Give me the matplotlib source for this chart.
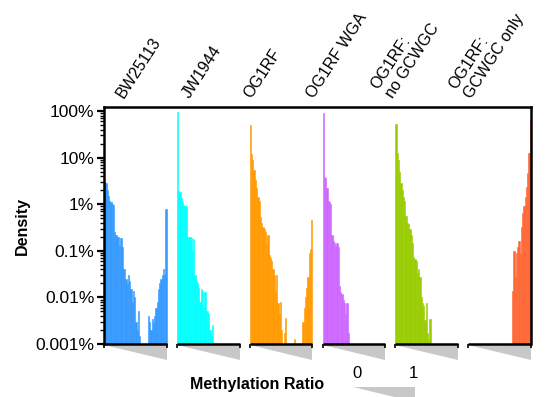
import matplotlib.pyplot as plt
from matplotlib.patches import Polygon

plt.rcParams['font.family'] = ['Liberation Sans', 'DejaVu Sans']

# Samples and colours
samples = ["BW25113", "JW1944", "OG1RF", "OG1RF WGA", "OG1RF:\nno GCWGC", "OG1RF:\nGCWGC only"]
colors = ["#3399ff", "#00ffff", "#ff9900", "#cc66ff", "#99cc00", "#ff6633"]

# Density (%) per methylation-ratio bin (50 bins from 0 to 1), 0 = empty bin
bw25113 = [3.0, 2.8, 2.0, 1.5, 1.2, 1.1, 1.0, 0.95, 0.25, 0.22,
           0.2, 0.2, 0.13, 0.19, 0.12, 0.04, 0.04, 0.025, 0.02, 0.03,
           0.022, 0.015, 0.008, 0.014, 0.01, 0.003, 0.002, 0.005, 0.0015, 0,
           0, 0, 0, 0, 0, 0.004, 0.003, 0.002, 0.0035, 0.003,
           0.004, 0.006, 0.008, 0.015, 0.02, 0.025, 0.03, 0.04, 0.03, 0.8]
jw1944 = [95, 1.9, 1.8, 1.35, 1.1, 0.95, 0.9, 0.9, 0.2, 0.2,
          0.2, 0.19, 0.1, 0.18, 0.03, 0.023, 0.02, 0.016, 0.008, 0.015,
          0.014, 0.006, 0.013, 0.005, 0.005, 0.0045, 0.002, 0.0015, 0.0025, 0,
          0, 0, 0, 0, 0, 0, 0, 0, 0, 0,
          0, 0, 0, 0, 0, 0, 0, 0, 0, 0]
og1rf = [50, 12, 9, 5.4, 3.3, 2.2, 1.4, 1.2, 0.54, 0.4,
         0.33, 0.3, 0.25, 0.15, 0.22, 0.08, 0.07, 0.06, 0.04, 0.03,
         0.013, 0.03, 0.0075, 0.0045, 0.008, 0.002, 0, 0.0017, 0.0037, 0,
         0, 0, 0, 0, 0, 0.0013, 0, 0, 0, 0,
         0, 0, 0.003, 0.006, 0.01, 0.016, 0.028, 0.09, 0.11, 0.46]
og1rf_wga = [92, 3.8, 3.6, 2.2, 1.2, 1.1, 1.0, 0.22, 0.16, 0.15,
             0.13, 0.15, 0.12, 0.018, 0.013, 0.012, 0.009, 0.0075, 0.0045, 0.0075,
             0.0017, 0, 0, 0, 0, 0, 0, 0, 0, 0,
             0, 0, 0, 0, 0, 0, 0, 0, 0, 0,
             0, 0, 0, 0, 0, 0, 0, 0, 0, 0]
og1rf_no_gcwgc = [52, 12.5, 9, 5, 2.9, 2.0, 1.4, 1.2, 0.55, 0.4,
                  0.38, 0.3, 0.22, 0.15, 0.074, 0.068, 0.06, 0.034, 0.04, 0.028,
                  0.01, 0.0075, 0.0065, 0.0033, 0.0075, 0.0017, 0.0012, 0.0035, 0, 0,
                  0, 0, 0, 0, 0, 0, 0, 0, 0, 0,
                  0, 0, 0, 0, 0, 0, 0, 0, 0, 0]
og1rf_gcwgc_only = [0, 0, 0, 0, 0, 0, 0, 0, 0, 0,
                    0, 0, 0, 0, 0, 0, 0, 0, 0, 0,
                    0, 0, 0, 0, 0, 0, 0, 0, 0, 0,
                    0, 0, 0, 0, 0, 0.014, 0.1, 0.028, 0.09, 0.12,
                    0.16, 0.09, 0.33, 0.65, 0.9, 1.4, 2.3, 4.7, 12.5, 64]
densities = [bw25113, jw1944, og1rf, og1rf_wga, og1rf_no_gcwgc, og1rf_gcwgc_only]

# Y axis ticks
ytick_values = [0.001, 0.01, 0.1, 1, 10, 100]
ytick_labels = ["0.001%", "0.01%", "0.1%", "1%", "10%", "100%"]

n_bins = 50
panel_width = 0.86  # fraction of the panel pitch used by one histogram

fig = plt.figure(figsize=(5.59, 3.97), dpi=100)
ax = fig.add_axes([104 / 559, 53 / 397, 427 / 559, 237 / 397])

bin_w = panel_width / n_bins
for i, (dens, col) in enumerate(zip(densities, colors)):
    xs = [i + k * bin_w for k in range(n_bins)]
    ax.bar(xs, dens, width=bin_w, align='edge', color=col, edgecolor=col, linewidth=0.4)

ax.set_yscale('log')
ax.set_ylim(0.001, 122)
ax.set_xlim(0, 5 + panel_width)
ax.set_yticks(ytick_values)
ax.set_yticklabels(ytick_labels, fontsize=12.5)

# Axis styling
for side in ['left', 'top', 'right']:
    ax.spines[side].set_linewidth(1.8)
ax.spines['bottom'].set_visible(False)
ax.tick_params(axis='y', which='major', direction='out', length=5, width=1.6, pad=2)
ax.tick_params(axis='y', which='minor', direction='out', length=3, width=1.0)

# Bottom axis split into one segment per panel, with end ticks
xticks = []
for i in range(len(samples)):
    xticks += [i, i + panel_width]
    ax.hlines(0, i, i + panel_width, color='black', linewidth=1.8,
              transform=ax.get_xaxis_transform(), clip_on=False)
ax.set_xticks(xticks)
ax.set_xticklabels([])
ax.tick_params(axis='x', direction='out', length=3, width=1.2)

# Grey triangles showing methylation ratio 0 -> 1 under each panel
for i in range(len(samples)):
    tri = Polygon([(i, -0.006), (i + panel_width, -0.006), (i + panel_width, -0.068)],
                  closed=True, facecolor='#c8c8c8', edgecolor='none',
                  transform=ax.get_xaxis_transform(), clip_on=False)
    ax.add_patch(tri)

# Sample labels above each panel
label_x = [126, 192, 254, 317, 396, 474]
for x, s in zip(label_x, samples):
    fig.text(x / 559, (397 - 101) / 397, s, rotation=57, rotation_mode='anchor',
             ha='left', va='bottom', fontsize=11.5, linespacing=1.25)

# Axis titles
fig.text(22 / 559, (397 - 226) / 397, "Density", rotation=90, ha='center', va='center',
         fontsize=11.5, fontweight='bold')
fig.text(190 / 559, (397 - 384) / 397, "Methylation Ratio", ha='left', va='center',
         fontsize=11.5, fontweight='bold')

# Key for the methylation ratio triangle
fig.text(357 / 559, (397 - 374) / 397, "0", ha='center', va='center', fontsize=12)
fig.text(413 / 559, (397 - 374) / 397, "1", ha='center', va='center', fontsize=12)
key = Polygon([(353 / 559, 10 / 397), (415 / 559, 10 / 397), (415 / 559, -5 / 397)],
              closed=True, facecolor='#c8c8c8', edgecolor='none',
              transform=fig.transFigure)
fig.add_artist(key)

plt.savefig("out.png", dpi=100)
